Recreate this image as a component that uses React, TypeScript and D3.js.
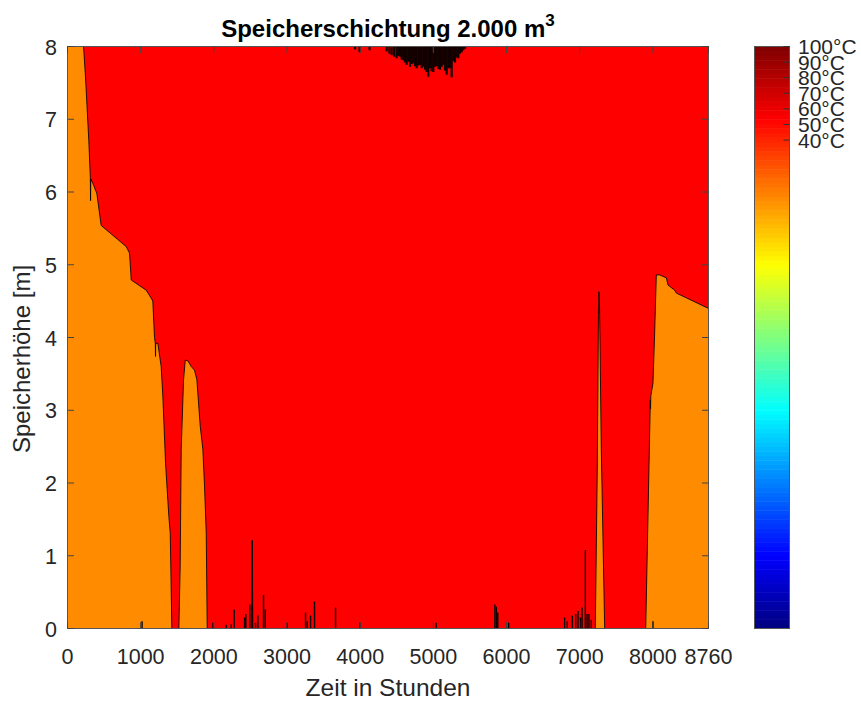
import React from "react";
import * as d3 from "d3";

const W = 861;
const H = 704;
const PL = 67.5, PR = 708.5, PT = 46.5, PB = 628.5;
const CBL = 754.5, CBR = 789.5;

const xTicks = [0, 1000, 2000, 3000, 4000, 5000, 6000, 7000, 8000, 8760];
const yTicks = [0, 1, 2, 3, 4, 5, 6, 7, 8];
const cbTickValues = [40, 50, 60, 70, 80, 90, 100];
const cbTickLabels = cbTickValues.map((v) => `${v}°C`);
const cbDomain = [-273.15, 100];
const cbLevels = 128;

// boundary of the cooler (orange) zone: [hour, height m]
const regionLeft: [number, number][] = [
  [0, 8], [219, 8], [246, 7.58], [291, 6.71], [312, 6.2], [315, 5.88], [318, 6.18],
  [346, 6.12], [401, 5.98], [460, 5.54], [802, 5.25], [848, 5.16], [871, 4.79],
  [1076, 4.65], [1144, 4.54], [1166, 4.5], [1189, 4.0], [1200, 3.92], [1203, 3.74],
  [1206, 3.92], [1235, 3.92], [1280, 3.6], [1303, 3.19], [1340, 2.27], [1385, 1.54],
  [1404, 1.31], [1426, 0],
];
const regionHump: [number, number][] = [
  [1522, 0], [1540, 0.86], [1554, 2.46], [1586, 3.42], [1609, 3.69], [1645, 3.68],
  [1691, 3.6], [1736, 3.55], [1768, 3.42], [1814, 2.78], [1850, 2.46], [1873, 1.95],
  [1896, 1.31], [1909, 0],
];
const regionSpike: [number, number][] = [
  [7213, 0], [7240, 2.2], [7256, 4.3], [7262, 4.63], [7270, 4.5], [7295, 2.46], [7341, 0],
];
const regionSmall: [number, number][] = [[2517, 0], [2525, 1.21], [2533, 0]];
const regionRight: [number, number][] = [
  [7902, 0], [7933, 1.54], [7965, 3.14], [7968, 3.02], [7972, 3.2], [8001, 3.37],
  [8024, 4.06], [8047, 4.86], [8093, 4.86], [8184, 4.82], [8207, 4.72], [8298, 4.65],
  [8321, 4.61], [8760, 4.4],
];
const regions = [regionLeft, regionHump, regionSpike, regionSmall, regionRight];

// dark streaks rising from the bottom: hour, height
const bottomSpikeHours = [
  1019, 1987, 2169, 2237, 2278, 2420, 2437, 2492, 2525, 2570, 2602, 2679, 2702, 3003,
  3253, 3276, 3322, 3376, 3663, 3996, 5038, 5840, 5860, 5880, 6029, 6794, 6830, 6900,
  6945, 6977, 7010, 7032, 7077, 7100, 7126, 7158, 8001,
];
const bottomSpikeHeights = [
  0.1, 0.08, 0.05, 0.06, 0.26, 0.15, 0.2, 0.33, 1.21, 0.08, 0.18, 0.46, 0.26, 0.08,
  0.22, 0.1, 0.18, 0.37, 0.29, 0.08, 0.08, 0.33, 0.3, 0.22, 0.08, 0.15, 0.1, 0.18,
  0.2, 0.24, 0.15, 0.29, 1.08, 0.2, 0.2, 0.12, 0.1,
];

// dark streaks hanging from the top: hour, lower end height
const topStreakHours = [
  3930, 3992, 4128, 4362, 4400, 4430, 4465, 4498, 4520, 4544, 4567, 4589, 4612, 4635,
  4658, 4681, 4704, 4726, 4749, 4772, 4795, 4817, 4840, 4863, 4886, 4908, 4931, 4954,
  4977, 4999, 5022, 5045, 5068, 5091, 5114, 5136, 5159, 5182, 5205, 5227, 5250, 5273,
  5296, 5318, 5341, 5364, 5387, 5409, 5432,
];
const topStreakDepths = [
  7.96, 7.92, 7.95, 7.93, 7.9, 7.88, 7.86, 7.84, 7.87, 7.86, 7.82, 7.81, 7.78, 7.75,
  7.79, 7.72, 7.76, 7.77, 7.73, 7.7, 7.74, 7.75, 7.7, 7.72, 7.68, 7.65, 7.585, 7.7,
  7.66, 7.65, 7.72, 7.73, 7.69, 7.68, 7.72, 7.75, 7.67, 7.61, 7.7, 7.7, 7.577, 7.8,
  7.78, 7.85, 7.84, 7.9, 7.92, 7.95, 7.97,
];

const ORANGE = "#FF8C00";
const RED = "#FF0000";
const TEXT = "#262626";
const FONT = "'Liberation Sans', Arial, Helvetica, sans-serif";

function clamp(v: number) {
  return Math.max(0, Math.min(1, v));
}
function jet(v: number) {
  const r = clamp(1.5 - Math.abs(4 * v - 3));
  const g = clamp(1.5 - Math.abs(4 * v - 2));
  const b = clamp(1.5 - Math.abs(4 * v - 1));
  return d3.rgb(r * 255, g * 255, b * 255).formatHex();
}

export default function App() {
  const x = d3.scaleLinear().domain([0, 8760]).range([PL, PR]);
  const y = d3.scaleLinear().domain([0, 8]).range([PB, PT]);
  const cbY = d3.scaleLinear().domain(cbDomain).range([PB, PT]);

  const area = d3
    .area<[number, number]>()
    .x((d) => x(d[0]))
    .y0(y(0))
    .y1((d) => y(d[1]));
  const line = d3
    .line<[number, number]>()
    .x((d) => x(d[0]))
    .y((d) => y(d[1]));

  const step = (cbDomain[1] - cbDomain[0]) / cbLevels;
  const bands = d3.range(cbLevels).map((i) => ({
    t0: cbDomain[0] + i * step,
    t1: cbDomain[0] + (i + 1) * step,
    color: jet((i + 0.5) / cbLevels),
  }));

  const tickLen = 6.5;

  return (
    <svg
      width={W}
      height={H}
      style={{ position: "absolute", left: 0, top: 0, background: "#fff" }}
      fontFamily={FONT}
    >
      <defs>
        <clipPath id="plotClip">
          <rect x={PL} y={PT} width={PR - PL} height={PB - PT} />
        </clipPath>
      </defs>
      <g clipPath="url(#plotClip)">
        <rect x={PL} y={PT} width={PR - PL} height={PB - PT} fill={RED} />
        {regions.map((r, i) => (
          <path key={"a" + i} d={area(r) || ""} fill={ORANGE} />
        ))}
        {regions.map((r, i) => (
          <path
            key={"l" + i}
            d={line(r) || ""}
            fill="none"
            stroke="#000"
            strokeWidth={1}
            strokeOpacity={0.85}
          />
        ))}
        {bottomSpikeHours.map((t, i) => (
          <line
            key={"b" + i}
            x1={x(t)}
            x2={x(t)}
            y1={y(0)}
            y2={y(bottomSpikeHeights[i])}
            stroke="#100000"
            strokeWidth={1.4}
          />
        ))}
        {topStreakHours.map((t, i) => (
          <line
            key={"t" + i}
            x1={x(t)}
            x2={x(t)}
            y1={y(8)}
            y2={y(topStreakDepths[i])}
            stroke="#120000"
            strokeWidth={2.2}
          />
        ))}
      </g>
      {/* frame */}
      <rect
        x={PL}
        y={PT}
        width={PR - PL}
        height={PB - PT}
        fill="none"
        stroke="#555"
        strokeWidth={1}
      />
      {xTicks.map((t) => (
        <g key={"xt" + t}>
          <line x1={x(t)} x2={x(t)} y1={PB} y2={PB - tickLen} stroke="#444" />
          <line x1={x(t)} x2={x(t)} y1={PT} y2={PT + tickLen} stroke="#444" />
          <text
            x={x(t)}
            y={664}
            textAnchor="middle"
            fontSize={21.5}
            fill={TEXT}
          >
            {t}
          </text>
        </g>
      ))}
      {yTicks.map((v) => (
        <g key={"yt" + v}>
          <line x1={PL} x2={PL + tickLen} y1={y(v)} y2={y(v)} stroke="#444" />
          <line x1={PR} x2={PR - tickLen} y1={y(v)} y2={y(v)} stroke="#444" />
          <text
            x={57}
            y={y(v) + 8}
            textAnchor="end"
            fontSize={21.5}
            fill={TEXT}
          >
            {v}
          </text>
        </g>
      ))}
      <text x={(PL + PR) / 2} y={696} textAnchor="middle" fontSize={24.5} fill={TEXT}>
        Zeit in Stunden
      </text>
      <text
        transform={`translate(30,359) rotate(-90)`}
        textAnchor="middle"
        fontSize={24}
        fill={TEXT}
      >
        Speicherhöhe [m]
      </text>
      <text
        x={(PL + PR) / 2}
        y={37}
        textAnchor="middle"
        fontSize={24}
        fontWeight="bold"
        fill="#000"
      >
        Speicherschichtung 2.000 m
        <tspan fontSize={17} dy={-11}>
          3
        </tspan>
      </text>
      {/* colorbar */}
      {bands.map((b, i) => (
        <rect
          key={"cb" + i}
          x={CBL}
          width={CBR - CBL}
          y={cbY(b.t1)}
          height={cbY(b.t0) - cbY(b.t1) + 0.5}
          fill={b.color}
        />
      ))}
      <rect
        x={CBL}
        y={PT}
        width={CBR - CBL}
        height={PB - PT}
        fill="none"
        stroke="#555"
        strokeWidth={1}
      />
      {cbTickValues.map((v, i) => (
        <g key={"cbt" + v}>
          <line x1={CBR} x2={CBR - 6} y1={cbY(v)} y2={cbY(v)} stroke="#333" />
          <text x={798} y={cbY(v) + 7.5} fontSize={21} fill={TEXT}>
            {cbTickLabels[i]}
          </text>
        </g>
      ))}
    </svg>
  );
}
